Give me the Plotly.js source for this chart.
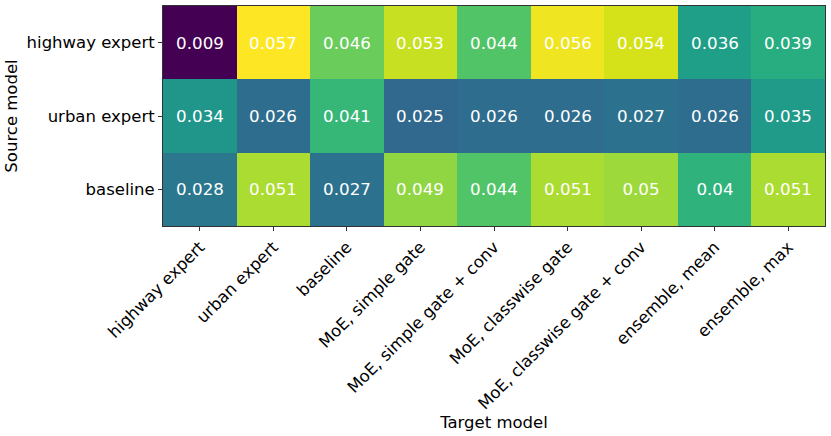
<!DOCTYPE html>
<html>
<head>
<meta charset="utf-8">
<script src="https://cdn.plot.ly/plotly-3.0.1.min.js"></script>
<style>
  html, body { margin: 0; padding: 0; background: #fff; }
  #heatmap { width: 831px; height: 436px; }
</style>
</head>
<body>
<div id="heatmap"></div>
<script>
var HEATMAP = document.getElementById('heatmap');

// target models (columns) and source models (rows)
var targetModels = ['highway expert', 'urban expert', 'baseline', 'MoE, simple gate',
    'MoE, simple gate + conv', 'MoE, classwise gate', 'MoE, classwise gate + conv',
    'ensemble, mean', 'ensemble, max'];
var sourceModels = ['highway expert', 'urban expert', 'baseline'];

// one row per source model
var highwayRow = [0.009, 0.057, 0.046, 0.053, 0.044, 0.056, 0.054, 0.036, 0.039];
var urbanRow = [0.034, 0.026, 0.041, 0.025, 0.026, 0.026, 0.027, 0.026, 0.035];
var baselineRow = [0.028, 0.051, 0.027, 0.049, 0.044, 0.051, 0.05, 0.04, 0.051];

var zValues = [highwayRow, urbanRow, baselineRow];
var cellText = zValues.map(function (row) {
    return row.map(function (v) { return String(v); });
});

var data = [{
    type: 'heatmap',
    x: targetModels,
    y: sourceModels,
    z: zValues,
    text: cellText,
    texttemplate: '%{text}',
    textfont: { family: 'DejaVu Sans', size: 16.7, color: '#ffffff' },
    colorscale: 'Viridis',
    zmin: 0.009,
    zmax: 0.057,
    showscale: false,
    xgap: 0,
    ygap: 0,
    hoverinfo: 'x+y+z'
}];

var layout = {
    width: 831,
    height: 436,
    margin: { l: 163, r: 6, t: 6, b: 210 },
    paper_bgcolor: '#ffffff',
    plot_bgcolor: '#ffffff',
    font: { family: 'DejaVu Sans', size: 16.5, color: '#000000' },
    xaxis: {
        tickangle: -45,
        ticks: 'outside',
        ticklen: 4,
        tickwidth: 1,
        tickcolor: '#333333',
        showline: true,
        linecolor: '#333333',
        linewidth: 1,
        mirror: true,
        showgrid: false,
        zeroline: false,
        title: { text: 'Target model', font: { size: 16.5 }, standoff: 2 }
    },
    yaxis: {
        autorange: 'reversed',
        ticks: 'outside',
        ticklen: 4,
        tickwidth: 1,
        tickcolor: '#333333',
        showline: true,
        linecolor: '#333333',
        linewidth: 1,
        mirror: true,
        showgrid: false,
        zeroline: false,
        title: { text: 'Source model', font: { size: 16.5 }, standoff: 4 }
    }
};

var config = { responsive: false, displayModeBar: false };

Plotly.newPlot(HEATMAP, data, layout, config);
</script>
</body>
</html>
